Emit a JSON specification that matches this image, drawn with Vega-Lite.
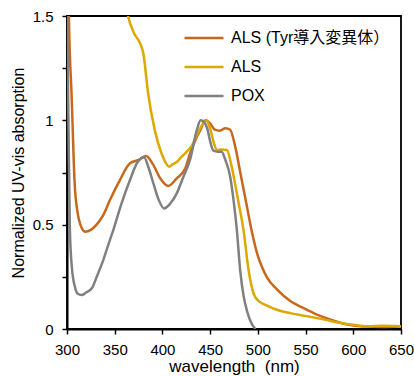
{
  "$schema": "https://vega.github.io/schema/vega-lite/v6.json",
  "width": 334,
  "height": 313,
  "autosize": {"type": "none"},
  "padding": {"left": 67, "top": 16, "right": 13, "bottom": 47},
  "background": "white",
  "config": {
    "font": "Liberation Sans, Noto Sans CJK JP",
    "view": {"stroke": "black", "strokeWidth": 1.8},
    "axis": {"grid": false, "domainColor": "black", "domainWidth": 2, "tickColor": "black", "tickWidth": 1.5, "tickSize": 5, "labelColor": "black", "titleColor": "black", "labelFont": "Liberation Sans", "titleFont": "Liberation Sans", "titleFontWeight": "normal"}
  },
  "datasets": {
    "spec": [
      {"s": "ALS (Tyr導入変異体）", "w": 300, "a": 2.2},
      {"s": "ALS (Tyr導入変異体）", "w": 302, "a": 1.5},
      {"s": "ALS (Tyr導入変異体）", "w": 305, "a": 1.1},
      {"s": "ALS (Tyr導入変異体）", "w": 308, "a": 0.7},
      {"s": "ALS (Tyr導入変異体）", "w": 311, "a": 0.56},
      {"s": "ALS (Tyr導入変異体）", "w": 314, "a": 0.5},
      {"s": "ALS (Tyr導入変異体）", "w": 319, "a": 0.466},
      {"s": "ALS (Tyr導入変異体）", "w": 325, "a": 0.475},
      {"s": "ALS (Tyr導入変異体）", "w": 331, "a": 0.5},
      {"s": "ALS (Tyr導入変異体）", "w": 338, "a": 0.546},
      {"s": "ALS (Tyr導入変異体）", "w": 345, "a": 0.618},
      {"s": "ALS (Tyr導入変異体）", "w": 355, "a": 0.71},
      {"s": "ALS (Tyr導入変異体）", "w": 366, "a": 0.794},
      {"s": "ALS (Tyr導入変異体）", "w": 375, "a": 0.81},
      {"s": "ALS (Tyr導入変異体）", "w": 383, "a": 0.829},
      {"s": "ALS (Tyr導入変異体）", "w": 390, "a": 0.79},
      {"s": "ALS (Tyr導入変異体）", "w": 398, "a": 0.72},
      {"s": "ALS (Tyr導入変異体）", "w": 406, "a": 0.685},
      {"s": "ALS (Tyr導入変異体）", "w": 415, "a": 0.722},
      {"s": "ALS (Tyr導入変異体）", "w": 424, "a": 0.77},
      {"s": "ALS (Tyr導入変異体）", "w": 429, "a": 0.843},
      {"s": "ALS (Tyr導入変異体）", "w": 435, "a": 0.91},
      {"s": "ALS (Tyr導入変異体）", "w": 440, "a": 0.955},
      {"s": "ALS (Tyr導入変異体）", "w": 445, "a": 1.0},
      {"s": "ALS (Tyr導入変異体）", "w": 450, "a": 0.985},
      {"s": "ALS (Tyr導入変異体）", "w": 455, "a": 0.955},
      {"s": "ALS (Tyr導入変異体）", "w": 460, "a": 0.95},
      {"s": "ALS (Tyr導入変異体）", "w": 466, "a": 0.962},
      {"s": "ALS (Tyr導入変異体）", "w": 471, "a": 0.955},
      {"s": "ALS (Tyr導入変異体）", "w": 476, "a": 0.88},
      {"s": "ALS (Tyr導入変異体）", "w": 482, "a": 0.74},
      {"s": "ALS (Tyr導入変異体）", "w": 488, "a": 0.6},
      {"s": "ALS (Tyr導入変異体）", "w": 494, "a": 0.46},
      {"s": "ALS (Tyr導入変異体）", "w": 500, "a": 0.35},
      {"s": "ALS (Tyr導入変異体）", "w": 505, "a": 0.29},
      {"s": "ALS (Tyr導入変異体）", "w": 510, "a": 0.244},
      {"s": "ALS (Tyr導入変異体）", "w": 520, "a": 0.19},
      {"s": "ALS (Tyr導入変異体）", "w": 534, "a": 0.134},
      {"s": "ALS (Tyr導入変異体）", "w": 548, "a": 0.1},
      {"s": "ALS (Tyr導入変異体）", "w": 562, "a": 0.069},
      {"s": "ALS (Tyr導入変異体）", "w": 578, "a": 0.042},
      {"s": "ALS (Tyr導入変異体）", "w": 594, "a": 0.021},
      {"s": "ALS (Tyr導入変異体）", "w": 610, "a": 0.012},
      {"s": "ALS (Tyr導入変異体）", "w": 630, "a": 0.01},
      {"s": "ALS (Tyr導入変異体）", "w": 650, "a": 0.012},
      {"s": "ALS", "w": 355, "a": 1.8},
      {"s": "ALS", "w": 364, "a": 1.5},
      {"s": "ALS", "w": 370, "a": 1.42},
      {"s": "ALS", "w": 376.5, "a": 1.37},
      {"s": "ALS", "w": 380, "a": 1.32},
      {"s": "ALS", "w": 385, "a": 1.13},
      {"s": "ALS", "w": 392, "a": 0.953},
      {"s": "ALS", "w": 399, "a": 0.842},
      {"s": "ALS", "w": 403, "a": 0.8},
      {"s": "ALS", "w": 407, "a": 0.778},
      {"s": "ALS", "w": 411, "a": 0.79},
      {"s": "ALS", "w": 415, "a": 0.8},
      {"s": "ALS", "w": 420, "a": 0.825},
      {"s": "ALS", "w": 425.5, "a": 0.85},
      {"s": "ALS", "w": 431, "a": 0.88},
      {"s": "ALS", "w": 437.6, "a": 0.945},
      {"s": "ALS", "w": 443, "a": 0.986},
      {"s": "ALS", "w": 446, "a": 1.0},
      {"s": "ALS", "w": 450, "a": 0.96},
      {"s": "ALS", "w": 454, "a": 0.89},
      {"s": "ALS", "w": 457, "a": 0.858},
      {"s": "ALS", "w": 462, "a": 0.86},
      {"s": "ALS", "w": 467.5, "a": 0.858},
      {"s": "ALS", "w": 472, "a": 0.79},
      {"s": "ALS", "w": 476, "a": 0.7},
      {"s": "ALS", "w": 480, "a": 0.6},
      {"s": "ALS", "w": 485, "a": 0.474},
      {"s": "ALS", "w": 490, "a": 0.29},
      {"s": "ALS", "w": 496, "a": 0.164},
      {"s": "ALS", "w": 502, "a": 0.13},
      {"s": "ALS", "w": 508, "a": 0.116},
      {"s": "ALS", "w": 520, "a": 0.092},
      {"s": "ALS", "w": 535, "a": 0.075},
      {"s": "ALS", "w": 552, "a": 0.061},
      {"s": "ALS", "w": 570, "a": 0.045},
      {"s": "ALS", "w": 587, "a": 0.029},
      {"s": "ALS", "w": 600, "a": 0.02},
      {"s": "ALS", "w": 615, "a": 0.013},
      {"s": "ALS", "w": 630, "a": 0.015},
      {"s": "ALS", "w": 650, "a": 0.013},
      {"s": "POX", "w": 300, "a": 1.55},
      {"s": "POX", "w": 301.5, "a": 1.0},
      {"s": "POX", "w": 303, "a": 0.48},
      {"s": "POX", "w": 305, "a": 0.3},
      {"s": "POX", "w": 308.4, "a": 0.2},
      {"s": "POX", "w": 311, "a": 0.17},
      {"s": "POX", "w": 315.4, "a": 0.163},
      {"s": "POX", "w": 320, "a": 0.175},
      {"s": "POX", "w": 326, "a": 0.195},
      {"s": "POX", "w": 332, "a": 0.26},
      {"s": "POX", "w": 338, "a": 0.33},
      {"s": "POX", "w": 343, "a": 0.4},
      {"s": "POX", "w": 348.5, "a": 0.474},
      {"s": "POX", "w": 357, "a": 0.6},
      {"s": "POX", "w": 366, "a": 0.714},
      {"s": "POX", "w": 374, "a": 0.8},
      {"s": "POX", "w": 380.7, "a": 0.823},
      {"s": "POX", "w": 385, "a": 0.78},
      {"s": "POX", "w": 390.5, "a": 0.698},
      {"s": "POX", "w": 396, "a": 0.62},
      {"s": "POX", "w": 401.7, "a": 0.578},
      {"s": "POX", "w": 408, "a": 0.6},
      {"s": "POX", "w": 415, "a": 0.65},
      {"s": "POX", "w": 422, "a": 0.73},
      {"s": "POX", "w": 428.9, "a": 0.81},
      {"s": "POX", "w": 436, "a": 0.953},
      {"s": "POX", "w": 440, "a": 1.0},
      {"s": "POX", "w": 444, "a": 0.99},
      {"s": "POX", "w": 447, "a": 0.96},
      {"s": "POX", "w": 450, "a": 0.9},
      {"s": "POX", "w": 453.4, "a": 0.855},
      {"s": "POX", "w": 458, "a": 0.85},
      {"s": "POX", "w": 462, "a": 0.85},
      {"s": "POX", "w": 466, "a": 0.81},
      {"s": "POX", "w": 471, "a": 0.73},
      {"s": "POX", "w": 475, "a": 0.6},
      {"s": "POX", "w": 478, "a": 0.474},
      {"s": "POX", "w": 481.6, "a": 0.276},
      {"s": "POX", "w": 485, "a": 0.16},
      {"s": "POX", "w": 488.7, "a": 0.085},
      {"s": "POX", "w": 493, "a": 0.03},
      {"s": "POX", "w": 497.4, "a": 0.0}
    ]
  },
  "data": {"name": "spec"},
  "mark": {"type": "line", "clip": true, "strokeWidth": 2.5, "interpolate": "monotone"},
  "encoding": {
    "x": {
      "field": "w", "type": "quantitative",
      "scale": {"domain": [300, 650], "nice": false, "zero": false},
      "axis": {"values": [300, 350, 400, 450, 500, 550, 600, 650], "labelFontSize": 15, "labelPadding": 8, "title": "wavelength \u00a0(nm)", "titleFontSize": 17, "titlePadding": 1, "labelFlush": false}
    },
    "y": {
      "field": "a", "type": "quantitative",
      "scale": {"domain": [0, 1.5], "nice": false, "zero": false},
      "axis": {"values": [0, 0.25, 0.5, 0.75, 1, 1.25, 1.5], "labelExpr": "datum.value * 2 == floor(datum.value * 2) ? format(datum.value, '~g') : ''", "labelFontSize": 15, "labelPadding": 9, "title": "Normalized UV-vis absorption", "titleFontSize": 16, "titlePadding": 6, "labelFlush": false}
    },
    "color": {
      "field": "s", "type": "nominal",
      "scale": {"domain": ["ALS (Tyr導入変異体）", "ALS", "POX"], "range": ["#C8681C", "#DDA800", "#808080"]},
      "legend": {"title": null, "orient": "none", "legendX": 116, "legendY": 1, "symbolType": "stroke", "symbolSize": 1521, "symbolStrokeWidth": 2.5, "labelFontSize": 16, "labelOffset": 6, "labelColor": "black", "labelFont": "Liberation Sans, Noto Sans CJK JP", "rowPadding": -3, "padding": 0, "labelLimit": 300}
    }
  }
}
